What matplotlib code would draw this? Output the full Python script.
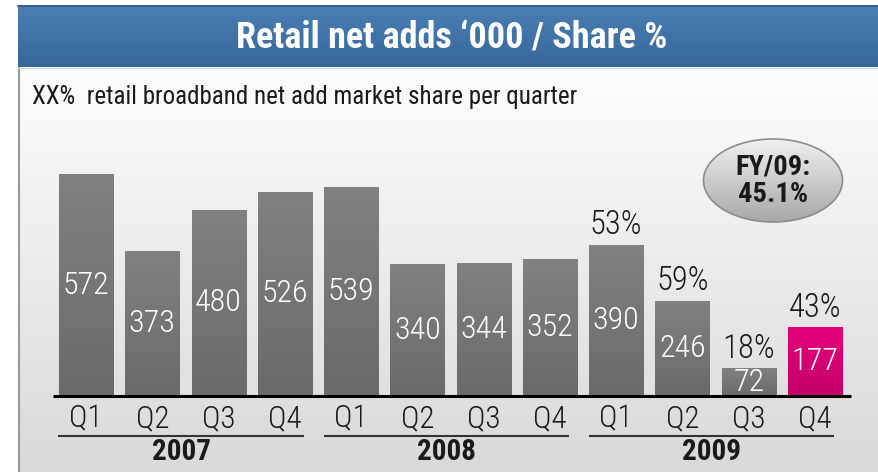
import numpy as np
import matplotlib
matplotlib.use('Agg')
import matplotlib.pyplot as plt
from matplotlib.patches import Rectangle, Ellipse

plt.rcParams['font.family'] = ['Roboto Condensed', 'DejaVu Sans']

# data
quarters = ['Q1', 'Q2', 'Q3', 'Q4'] * 3
years = ['2007', '2008', '2009']
net_adds = [572, 373, 480, 526, 539, 340, 344, 352, 390, 246, 72, 177]
share = [None] * 8 + [53, 59, 18, 43]
title = 'Retail net adds \u2018000 / Share %'
subtitle = 'XX%  retail broadband net add market share per quarter'
fy_label = 'FY/09:\n45.1%'

W, H = 879, 472
fig = plt.figure(figsize=(W / 100, H / 100), dpi=100)
fig.patch.set_facecolor('white')

# background in pixel coordinates
bg = fig.add_axes([0, 0, 1, 1])
bg.set_xlim(0, W)
bg.set_ylim(H, 0)
bg.axis('off')


def vgrad(ax, x0, x1, ytop, ybot, c_top, c_bot, clip=None, z=0):
    c_top = np.array(matplotlib.colors.to_rgb(c_top))
    c_bot = np.array(matplotlib.colors.to_rgb(c_bot))
    t = np.linspace(0, 1, 128)[:, None, None]
    img = c_top * (1 - t) + c_bot * t
    im = ax.imshow(img, extent=(x0, x1, ybot, ytop), origin='upper', aspect='auto',
                   zorder=z, interpolation='bilinear')
    if clip is not None:
        im.set_clip_path(clip)
    return im


# panel
vgrad(bg, 19, W, 67, H, '#fdfdfd', '#d9d9d9', z=0)
bg.plot([19.5, 19.5], [67, H], color='#9a9a9a', lw=1.5, zorder=1)
# banner
vgrad(bg, 18, W, 5, 67, '#4a7fb3', '#37679a', z=1)
bg.plot([18, W], [5.5, 5.5], color='#2f5a86', lw=1.2, zorder=2)
bg.plot([18, W], [67.5, 67.5], color='#c9d6e3', lw=1, zorder=2)
bg.text(452, 37, title, color='white', fontsize=26, fontweight='bold',
        ha='center', va='center', zorder=3)
bg.text(32, 97, subtitle, color='#1a1a1a', fontsize=18, ha='left', va='center', zorder=3)

# FY bubble
ell = Ellipse((773, 180.5), 139, 83, facecolor='none', edgecolor='#8c8c8c', lw=1.2, zorder=4)
bg.add_patch(ell)
vgrad(bg, 704, 843, 139, 222, '#f0f0f0', '#a8a8a8', clip=ell, z=3)
bg.text(773, 181, fy_label, fontsize=20.5, fontweight='bold', ha='center', va='center',
        color='#1a1a1a', linespacing=1.0, zorder=5)

# bar axes, mapped so bars land on the reference pixels
ax = fig.add_axes([20 / W, 0, (W - 20) / W, 404 / H])
ax.axis('off')
ax.patch.set_alpha(0)

x = np.arange(len(net_adds))
bw = 0.815
for i, v in enumerate(net_adds):
    if i == len(net_adds) - 1:
        top_c, bot_c = '#e4007a', '#c4006a'
    else:
        top_c, bot_c = '#818181', '#6a6a6a'
    r = Rectangle((x[i] - bw / 2, 0), bw, v, facecolor='none', edgecolor='none')
    ax.add_patch(r)
    vgrad(ax, x[i] - bw / 2, x[i] + bw / 2, v, 0, top_c, bot_c, clip=r, z=2)
    ax.text(x[i], v / 2, str(v), color='white', fontsize=23, fontweight='light',
            ha='center', va='center', zorder=4)
    if share[i] is not None:
        ax.text(x[i], v + 50, f'{share[i]}%', color='#1a1a1a', fontsize=23.5,
                fontweight='light', ha='center', va='center', zorder=4)

ax.set_xlim(-0.996, 11.966)
ax.set_ylim(-195.9, 845.4)

ax.plot([-0.5, 11.55], [0, 0], color='black', lw=2.2, zorder=5, solid_capstyle='butt')
for i, q in enumerate(quarters):
    ax.text(x[i], -60, q, fontsize=22.5, fontweight='light', ha='center', va='center',
            color='#1a1a1a')
for g, yr in enumerate(years):
    s, e = g * 4, g * 4 + 3
    ax.plot([s - 0.4, e + 0.27], [-103, -103], color='#333333', lw=1.5)
    ax.text((s + e) / 2 - 0.06, -145, yr, fontsize=21, fontweight='bold',
            ha='center', va='center', color='#1a1a1a')

fig.savefig('out.png', dpi=100)
